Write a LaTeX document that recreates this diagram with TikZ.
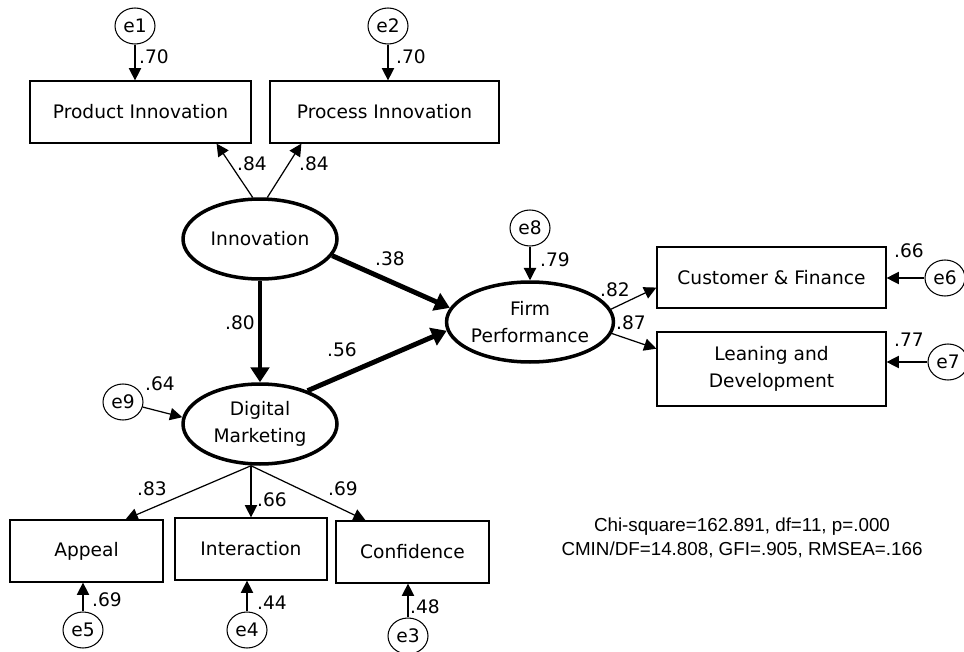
\documentclass[tikz,border=0pt]{standalone}
\usepackage{fontspec}
\setmainfont{DejaVu Sans}
\newfontfamily\fitfont{Liberation Sans}
\usetikzlibrary{shapes.geometric,arrows.meta,calc}

\tikzset{
  obsbox/.style={draw, rectangle, line width=0.7pt, inner sep=0pt, align=center},
  latent/.style={draw, ellipse, line width=2pt, inner sep=0pt, minimum width=3.08cm, minimum height=1.6cm, align=center},
  errnode/.style={draw, ellipse, line width=0.6pt, inner sep=0pt, minimum width=0.8cm, minimum height=0.72cm},
  coef/.style={inner sep=0pt},
  thinpath/.style={->, line width=0.7pt, >={Triangle[length=7pt,width=7pt]}},
  thickpath/.style={->, line width=2.8pt, >={Triangle[length=8.5pt,width=10.5pt]}},
}

\begin{document}
\begin{tikzpicture}[x=0.02cm, y=-0.02cm, font=\fontsize{10.6}{15.5}\selectfont]
  \useasboundingbox (0,0) rectangle (964,652);

  \node[errnode] (e1) at (135,26) {e1};
  \node[errnode] (e2) at (388,26) {e2};
  \node[obsbox, minimum width=4.42cm, minimum height=1.24cm] (pinn) at (140.5,112) {Product Innovation};
  \node[obsbox, minimum width=4.58cm, minimum height=1.24cm] (prin) at (384.5,112) {Process Innovation};

  \node[latent] (inno) at (260,239) {Innovation};
  \node[latent] (dm) at (260,424) {Digital\\Marketing};
  \node[latent] (fp) at (530,322) {Firm\\Performance};
  \node[errnode] (e8) at (530,228) {e8};
  \node[errnode] (e9) at (123,402) {e9};

  \node[obsbox, minimum width=4.58cm, minimum height=1.22cm] (cf) at (771.5,277.5) {Customer \& Finance};
  \node[obsbox, minimum width=4.58cm, minimum height=1.48cm] (ld) at (771.5,369) {Leaning and\\Development};
  \node[errnode] (e6) at (945,278) {e6};
  \node[errnode] (e7) at (948,362) {e7};

  \node[obsbox, minimum width=3.06cm, minimum height=1.24cm] (app) at (86.5,551) {Appeal};
  \node[obsbox, minimum width=3.04cm, minimum height=1.24cm] (int) at (251,549) {Interaction};
  \node[obsbox, minimum width=3.06cm, minimum height=1.24cm] (conf) at (412.5,552) {Confidence};
  \node[errnode] (e5) at (83,630) {e5};
  \node[errnode] (e4) at (247,630) {e4};
  \node[errnode] (e3) at (408,636) {e3};

  \draw[thinpath] (e1) -- (e1 |- pinn.north);
  \draw[thinpath] (e2) -- (e2 |- prin.north);
  \draw[thinpath] (inno.100) -- ($(pinn.south east)+(-35,0)$);
  \draw[thinpath] (inno.80) -- ($(prin.south west)+(32,0)$);
  \draw[thickpath] (inno.south) -- (dm.north);
  \draw[thickpath] (inno.-13) -- (fp.170);
  \draw[thickpath] (dm.35) -- (fp.186);
  \draw[thinpath] (e8) -- (fp.north);
  \draw[thinpath] (e9) -- (dm.175);
  \draw[thinpath] (fp.9) -- (cf.185);
  \draw[thinpath] (fp.-8) -- (ld.170);
  \draw[thinpath] (e6) -- (e6 -| cf.east);
  \draw[thinpath] (e7) -- (e7 -| ld.east);
  \coordinate (dmb) at (dm.south -| int.north);
  \draw[thinpath] (dmb) -- (app.39);
  \draw[thinpath] (dmb) -- (int.north);
  \draw[thinpath] (dmb) -- (conf.146);
  \draw[thinpath] (e5) -- (e5 |- app.south);
  \draw[thinpath] (e4) -- (e4 |- int.south);
  \draw[thinpath] (e3) -- (e3 |- conf.south);

  \node[coef] (c1) at (154,57) {.70};
  \node[coef] (c2) at (411,57) {.70};
  \node[coef] (c3) at (252,164) {.84};
  \node[coef] (c4) at (314,164) {.84};
  \node[coef] (c5) at (390,259) {.38};
  \node[coef] (c6) at (240,323) {.80};
  \node[coef] (c7) at (342,350) {.56};
  \node[coef] (c8) at (555,260) {.79};
  \node[coef] (c9) at (615,290) {.82};
  \node[coef] (c10) at (631,323) {.87};
  \node[coef] (c11) at (909,251) {.66};
  \node[coef] (c12) at (909,340) {.77};
  \node[coef] (c13) at (160,384) {.64};
  \node[coef] (c14) at (152,489) {.83};
  \node[coef] (c15) at (272,500) {.66};
  \node[coef] (c16) at (343,489) {.69};
  \node[coef] (c17) at (107,600) {.69};
  \node[coef] (c18) at (272,603) {.44};
  \node[coef] (c19) at (425,607) {.48};

  \node[align=center, font=\fitfont\fontsize{10.7}{13.5}\selectfont] (fit) at (742,538)
    {Chi-square=162.891, df=11, p=.000\\CMIN/DF=14.808, GFI=.905, RMSEA=.166};
\end{tikzpicture}
\end{document}
